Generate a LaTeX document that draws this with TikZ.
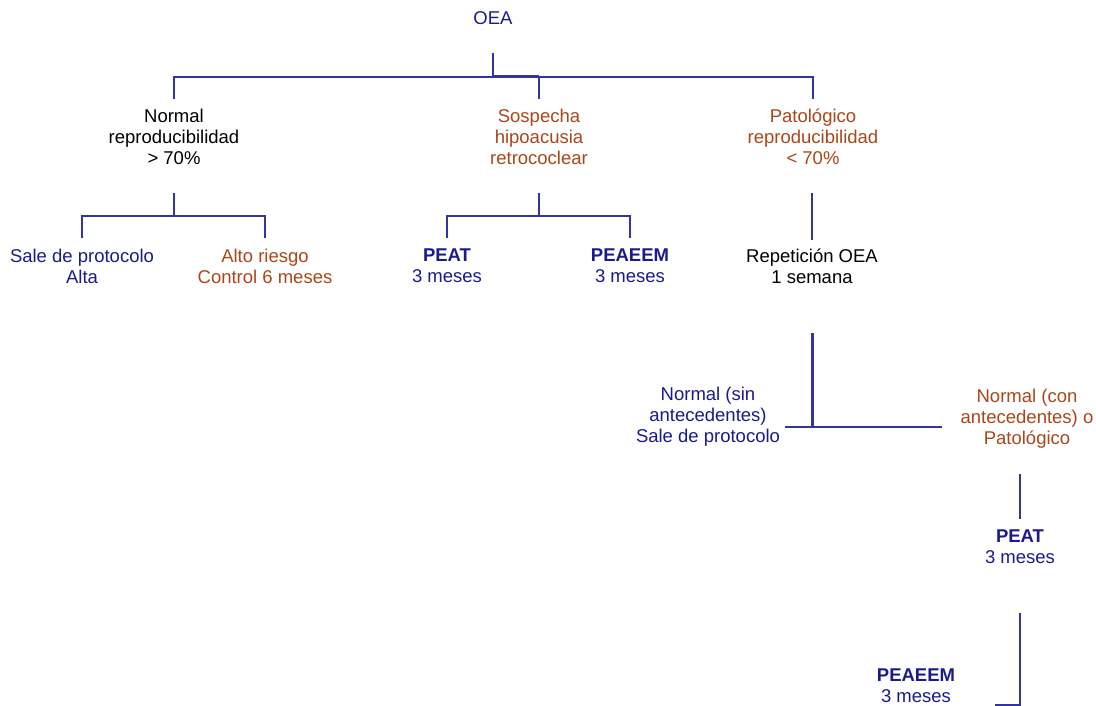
\documentclass[tikz,border=0pt]{standalone}
\usepackage{fontspec}
\setmainfont{Liberation Sans}
\definecolor{tblue}{RGB}{26,26,140}
\definecolor{lblue}{RGB}{52,52,158}
\definecolor{torange}{RGB}{170,70,25}
\begin{document}
\begin{tikzpicture}[x=1pt,y=-1pt,
  lbl/.style={inner sep=0pt, align=center, font=\fontsize{18.5}{21}\selectfont},
  bl/.style={lbl,text=tblue},
  org/.style={lbl,text=torange},
  blk/.style={lbl,text=black},
  conn/.style={draw=lblue,line width=2pt,line join=miter},
  thick conn/.style={conn,line width=3pt}]
\useasboundingbox (0,0) rectangle (1096,706);
% nodes
\node[bl]  (oea)     at (493,18)  {OEA};
\node[blk] (normal)  at (174,137) {Normal\\reproducibilidad\\> 70\%};
\node[org] (sosp)    at (539,137) {Sospecha\\hipoacusia\\retrococlear};
\node[org] (pato)    at (813,137) {Patológico\\reproducibilidad\\< 70\%};
\node[bl]  (sale)    at (82,266)  {Sale de protocolo\\Alta};
\node[org] (alto)    at (265,266) {Alto riesgo\\Control 6 meses};
\node[bl]  (peat1)   at (447,266) {\textbf{PEAT}\\3 meses};
\node[bl]  (peaeem1) at (630,266) {\textbf{PEAEEM}\\3 meses};
\node[blk] (rep)     at (812,266) {Repetición OEA\\1 semana};
\node[bl]  (nsin)    at (708,417) {Normal (sin\\antecedentes)\\Sale de protocolo};
\node[org] (ncon)    at (1027,419) {Normal (con\\antecedentes) o\\Patológico};
\node[bl]  (peat2)   at (1020,547) {\textbf{PEAT}\\3 meses};
\node[bl]  (peaeem2) at (916,686) {\textbf{PEAEEM}\\3 meses};
% connector points
\coordinate (a0) at (oea.center |- 0,53);
\coordinate (a1) at (oea.center |- 0,76);
\coordinate (a2) at (sosp.center |- 0,76);
\coordinate (b0) at (normal.center |- 0,99);
\coordinate (bt) at (sosp.center |- 0,77);
\coordinate (b1) at (sosp.center |- 0,99);
\coordinate (b2) at (pato.center |- 0,99);
\coordinate (c0) at (normal.center |- 0,193);
\coordinate (c1) at (normal.center |- 0,216);
\coordinate (c2) at (sale.center |- 0,238);
\coordinate (c3) at (alto.center |- 0,238);
\coordinate (d0) at (sosp.center |- 0,193);
\coordinate (d1) at (sosp.center |- 0,216);
\coordinate (d2) at (peat1.center |- 0,238);
\coordinate (d3) at (peaeem1.center |- 0,238);
\coordinate (e0) at (rep.center |- 0,193);
\coordinate (e1) at (rep.center |- 0,240);
\coordinate (f0) at (rep.center |- 0,333);
\coordinate (f1) at (rep.center |- 0,427);
\coordinate (f2) at (785,427);
\coordinate (f3) at (942,427);
\coordinate (g0) at (peat2.center |- 0,474);
\coordinate (g1) at (peat2.center |- 0,519);
\coordinate (h0) at (peat2.center |- 0,613);
\coordinate (h1) at (peat2.center |- 0,705);
\coordinate (h2) at (995,705);
% connectors
\draw[conn] (a0) -- (a1) -- (a2);
\draw[conn] (b0) |- (bt) -| (b2);
\draw[conn] (bt) -- (b1);
\draw[conn] (c0) -- (c1);
\draw[conn] (c2) |- (c1) -| (c3);
\draw[conn] (d0) -- (d1);
\draw[conn] (d2) |- (d1) -| (d3);
\draw[conn] (e0) -- (e1);
\draw[thick conn] (f0) -- (f1);
\draw[conn,line width=2.5pt] (f2) -- (f3);
\draw[conn] (g0) -- (g1);
\draw[conn] (h0) -- (h1) -- (h2);
\end{tikzpicture}
\end{document}
